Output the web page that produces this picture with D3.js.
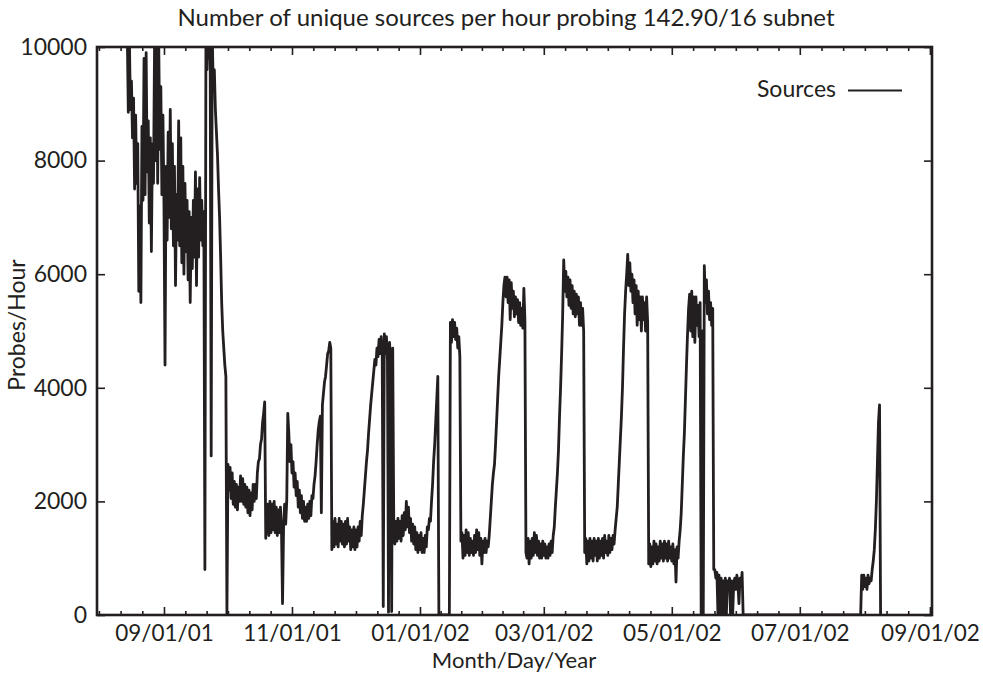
<!DOCTYPE html>
<html>
<head>
<meta charset="utf-8">
<script src="https://cdn.jsdelivr.net/npm/d3@7"></script>
<style>
  body { margin: 0; background: #fff; }
  text { font-family: Lato, "Open Sans", sans-serif; fill: #231f20; }
</style>
</head>
<body>
<div id="canvas"></div>
<script>
const title = "Number of unique sources per hour probing 142.90/16 subnet";
const xLabel = "Month/Day/Year";
const yLabel = "Probes/Hour";
const seriesName = "Sources";

const yTicks = [0, 2000, 4000, 6000, 8000, 10000];
const xRange = ["2001-07-31T02:00", "2002-09-02T00:00"];

// each segment: start time, spacing between samples (hours)
const segmentStarts = ["2001-08-14T12:00", "2002-06-04T12:00", "2002-07-30T12:00"];
const segmentStepHours = [12, 1332, 12];

const fallToSpring = [
  10300, 8850, 10200, 8900, 9400, 8400, 9100, 7500, 8800, 7600,
  8300, 5700, 7200, 5500, 8600, 7300, 9800, 7400, 9900, 7800,
  8700, 6900, 8400, 6400, 8300, 7600, 10000, 8000, 10200, 7600,
  10100, 8200, 9300, 7400, 8800, 7200, 4400, 7900, 6600, 8500,
  7000, 8900, 6800, 8300, 6500, 7900, 5800, 7400, 6600, 8700,
  6500, 8400, 6200, 7900, 6000, 7600, 6400, 7300, 5900, 7100,
  5500, 7000, 6100, 7300, 6300, 7800, 5800, 7500, 6300, 7700,
  6600, 7300, 6500, 7100, 800, 10300, 9600, 10300, 9800, 10200,
  2800, 10200, 9300, 9600, 8900, 8500, 8100, 7500, 7000, 6300,
  5500, 5000, 4700, 4400, 4200, 0, 2650, 2200, 2600, 2050,
  2500, 1950, 2350, 1900, 2300, 1850, 2250, 2000, 2450, 2000,
  2400, 1950, 2300, 1900, 2250, 1800, 2200, 1750, 2150, 1850,
  2300, 2000, 2300, 2050, 2500, 2700, 2750, 3000, 3100, 3400,
  3550, 3750, 1350, 1700, 1950, 1400, 2000, 1450, 1950, 1500,
  2000, 1450, 1900, 1400, 1850, 1450, 1900, 1500, 200, 1550,
  1950, 1600, 2000, 3550, 3200, 2700, 3000, 2500, 2700, 2250,
  2500, 2100, 2350, 1900, 2200, 1800, 2100, 1700, 2000, 1650,
  1900, 1650, 1950, 1700, 2000, 1750, 2100, 2050, 2300, 2450,
  2700, 3000, 3250, 3400, 3500, 1800, 3700, 3900, 4100, 4200,
  4400, 4600, 4650, 4800, 4700, 1150, 1650, 1200, 1700, 1250,
  1600, 1200, 1700, 1300, 1650, 1250, 1600, 1200, 1650, 1250,
  1700, 1300, 1550, 1150, 1500, 1200, 1550, 1150, 1500, 1200,
  1550, 1300, 1650, 1400, 1750, 1950, 2200, 2450, 2700, 2900,
  3200, 3450, 3700, 3900, 4100, 4300, 4500, 4400, 4700, 4550,
  4850, 4600, 4900, 4650, 150, 4950, 4600, 4900, 4500, 50,
  4800, 4450, 60, 4700, 1700, 1250, 1650, 1300, 1700, 1350,
  1650, 1300, 1750, 1400, 1800, 1500, 2000, 1550, 1900, 1450,
  1700, 1300, 1600, 1250, 1550, 1150, 1450, 1100, 1400, 1150,
  1450, 1100, 1350, 1100, 1400, 1200, 1550, 1500, 1700, 1650,
  2000, 2300, 2700, 3000, 3400, 3800, 4200, 0, 0, 0,
  0, 0, 0, 0, 0, 0, 0, 0, 5150, 4800,
  5200, 4900, 5150, 4850, 5050, 4700, 4900, 4550, 1300, 1450,
  1000, 1400, 1050, 1500, 1100, 1450, 1050, 1350, 1100, 1300,
  1050, 1400, 1100, 1500, 1150, 1450, 1050, 1350, 900, 1300,
  1100, 1350, 1100, 1300, 1200, 1400, 1700, 2000, 2300, 2500,
  2650, 3000, 3400, 3800, 4200, 4500, 4800, 5100, 5500, 5800,
  5950, 5600, 5950, 5500, 5900, 5200, 5850, 5400, 5700, 5250,
  5600, 5300, 5550, 5150, 5500, 5100, 5400, 5050, 5750, 5200,
  1100, 1000, 1350, 900, 1300, 1000, 1350, 1050, 1450, 1100,
  1400, 1050, 1300, 1000, 1250, 1000, 1300, 1050, 1250, 1000,
  1200, 1000, 1250, 1050, 1300, 1100, 1400, 1550, 1900, 2200,
  2500, 2900, 3500, 4000, 4600, 5300, 6250, 5700, 6050, 5600,
  5950, 5450, 5900, 5400, 5800, 5300, 5700, 5250, 5650, 5300,
  5600, 5100, 5500, 5100, 5400, 5000, 1100, 1350, 900, 1300,
  950, 1350, 1000, 1300, 950, 1350, 1050, 1300, 950, 1350,
  1000, 1300, 1050, 1350, 1000, 1400, 1100, 1300, 1050, 1400,
  1100, 1350, 1150, 1400, 1250, 1500, 1700, 1900, 2300, 2700,
  3100, 3500, 4000, 4700, 5300, 5700, 6000, 6350, 5800, 6200,
  5700, 6000, 5500, 5900, 5300, 5800, 5100, 5700, 5200, 5600,
  5000, 5600, 5200, 5500, 5000, 5600, 5150, 900, 1250, 850,
  1200, 900, 1300, 950, 1250, 900, 1200, 950, 1300, 1000,
  1250, 950, 1300, 1000, 1250, 950, 1300, 1000, 1200, 950,
  1250, 900, 1150, 580, 1200, 1000, 1300, 1500, 1800, 2300,
  2800, 3200, 3800, 4400, 4950, 5400, 5650, 5000, 5700, 4900,
  5600, 4800, 5600, 5100, 5450, 4900, 5500, 0, 5000, 0,
  6150, 5500, 5900, 5300, 5700, 5200, 5500, 5100, 5400, 800,
  800, 650, 750, 0, 700, 0, 650, 0, 600, 0,
  650, 0, 600, 500, 650, 0, 600, 0, 550, 650,
  450, 700, 550, 200, 650, 500, 750, 0
];
const summerGap = [0, 0];
const lateSummer = [700, 450, 700, 500, 650, 450, 700, 550, 650, 600,
  800, 950, 1150, 1500, 2000, 2700, 3400, 3700, 0];

const segmentValues = [fallToSpring, summerGap, lateSummer];

const parseTime = d3.utcParse("%Y-%m-%dT%H:%M");
const data = [];
segmentValues.forEach((vals, s) => {
  const t0 = parseTime(segmentStarts[s]);
  vals.forEach((v, j) => {
    data.push({ t: d3.utcHour.offset(t0, j * segmentStepHours[s]), v: v });
  });
});

const width = 983;
const height = 673;
const margin = { top: 47, left: 97, bottom: 58, right: 51 };
const iwidth = width - margin.left - margin.right;
const iheight = height - margin.top - margin.bottom;
const ink = "#231f20";

const svg = d3.select("#canvas").append("svg")
  .attr("width", width)
  .attr("height", height);

const g = svg.append("g")
  .attr("transform", `translate(${margin.left},${margin.top})`);

const x = d3.scaleUtc()
  .domain(xRange.map(parseTime))
  .range([0, iwidth]);

const y = d3.scaleLinear()
  .domain([0, 10000])
  .range([iheight, 0]);

// major ticks every two months, five minor ticks between them
const majors = d3.utcMonth.every(2).range(x.domain()[0], x.domain()[1]);
const wide = d3.utcMonth.every(2).range(new Date(Date.UTC(2001, 6, 1)), new Date(Date.UTC(2002, 11, 2)));
const minors = [];
for (let i = 0; i < wide.length - 1; i++) {
  const a = +wide[i], b = +wide[i + 1];
  for (let k = 1; k < 6; k++) {
    const t = new Date(a + (b - a) * k / 6);
    if (t >= x.domain()[0] && t <= x.domain()[1]) minors.push(t);
  }
}

const fmt = d3.utcFormat("%m/%d/%y");

g.append("defs").append("clipPath").attr("id", "clip")
  .append("rect").attr("width", iwidth).attr("height", iheight);

const line = d3.line()
  .x((d) => x(d.t))
  .y((d) => y(d.v));

g.append("path")
  .datum(data)
  .attr("clip-path", "url(#clip)")
  .attr("fill", "none")
  .attr("stroke", ink)
  .attr("stroke-width", 2.8)
  .attr("stroke-linejoin", "round")
  .attr("d", line);

function styleAxis(size) {
  return (sel) => {
    sel.select(".domain").remove();
    sel.selectAll("line").attr("stroke", ink).attr("stroke-width", 1.6);
    sel.selectAll("text").style("font-size", size + "px").attr("fill", ink);
  };
}

g.append("g")
  .attr("transform", `translate(0,${iheight})`)
  .call(d3.axisBottom(x).tickValues(majors).tickFormat(fmt).tickSize(-8).tickPadding(10))
  .call(styleAxis(22.5));
g.append("g")
  .attr("transform", `translate(0,${iheight})`)
  .call(d3.axisBottom(x).tickValues(minors).tickFormat("").tickSize(-4))
  .call(styleAxis(22));
g.append("g")
  .call(d3.axisTop(x).tickValues(majors).tickFormat("").tickSize(-8))
  .call(styleAxis(22));
g.append("g")
  .call(d3.axisTop(x).tickValues(minors).tickFormat("").tickSize(-4))
  .call(styleAxis(22));
g.append("g")
  .call(d3.axisLeft(y).tickValues(yTicks).tickFormat(d3.format("d")).tickSize(-8).tickPadding(10))
  .call(styleAxis(23));
g.append("g")
  .attr("transform", `translate(${iwidth},0)`)
  .call(d3.axisRight(y).tickValues(yTicks).tickFormat("").tickSize(-8))
  .call(styleAxis(22));

g.append("rect")
  .attr("width", iwidth)
  .attr("height", iheight)
  .attr("fill", "none")
  .attr("stroke", ink)
  .attr("stroke-width", 2.6);

// legend
g.append("text")
  .attr("x", 739)
  .attr("y", 50)
  .attr("text-anchor", "end")
  .style("font-size", "23px")
  .text(seriesName);
g.append("line")
  .attr("x1", 751).attr("x2", 805)
  .attr("y1", 43.5).attr("y2", 43.5)
  .attr("stroke", ink)
  .attr("stroke-width", 2);

svg.append("text")
  .attr("x", 506)
  .attr("y", 26)
  .attr("text-anchor", "middle")
  .style("font-size", "24px")
  .text(title);

svg.append("text")
  .attr("x", 514)
  .attr("y", 668)
  .attr("text-anchor", "middle")
  .style("font-size", "22px")
  .text(xLabel);

svg.append("text")
  .attr("transform", "translate(25,325) rotate(-90)")
  .attr("text-anchor", "middle")
  .style("font-size", "23px")
  .text(yLabel);
</script>
</body>
</html>
